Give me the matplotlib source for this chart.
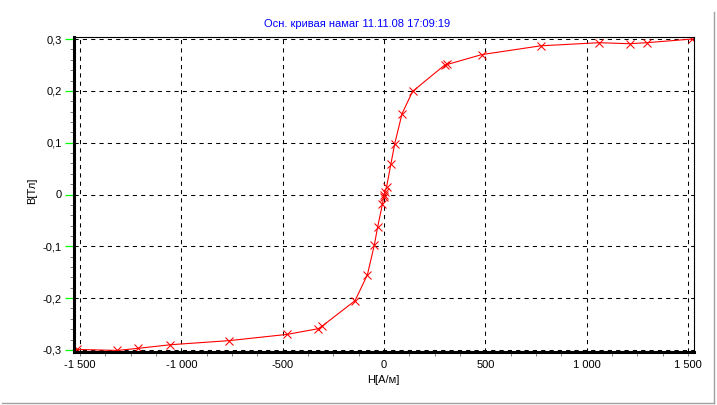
import numpy as np
import matplotlib
matplotlib.use("Agg")
import matplotlib.pyplot as plt
from matplotlib.lines import Line2D

plt.rcParams['font.family'] = ['Liberation Sans', 'DejaVu Sans']

# ---- data ----
H_values = [-1516, -1316, -1215, -1054, -763, -478, -324, -305, -143, -82, -48, -31,
            -8, -2, 1, 3, 13, 34, 53, 89, 141, 300, 312, 482, 773, 1062, 1214, 1296, 1518]
B_values = [-0.299, -0.301, -0.297, -0.290, -0.282, -0.270, -0.259, -0.254, -0.205, -0.155,
            -0.098, -0.062, -0.019, -0.005, 0.000, 0.004, 0.015, 0.059, 0.098, 0.156, 0.199,
            0.250, 0.251, 0.270, 0.287, 0.293, 0.291, 0.293, 0.300]

x_ticks = [-1500, -1000, -500, 0, 500, 1000, 1500]
x_tick_labels = ["-1 500", "-1 000", "-500", "0", "500", "1 000", "1 500"]
y_ticks = [-0.3, -0.2, -0.1, 0.0, 0.1, 0.2, 0.3]
y_tick_labels = ["-0,3", "-0,2", "-0,1", "0", "0,1", "0,2", "0,3"]

title_text = "Осн. кривая намаг 11.11.08 17:09:19"
x_label = "H[A/м]"
y_label = "B[Тл]"

W, Hh = 717, 405
fig = plt.figure(figsize=(W / 100, Hh / 100), dpi=100)
ax = fig.add_axes([74 / W, 1 - 352 / Hh, (694 - 74) / W, (352 - 37) / Hh])

ax.set_xlim(-1529.6, 1529.6)
ax.set_ylim(-0.304, 0.304)

ax.plot(H_values, B_values, color='#ff0000', lw=0.8, marker='x', ms=6, mew=0.75,
        zorder=3, clip_on=True)

# grid
for xv in x_ticks:
    ax.axvline(xv, color='black', lw=0.75, ls=(0, (4, 4)), zorder=1)
for yv in y_ticks:
    ax.axhline(yv, color='black', lw=0.75, ls=(0, (4, 4)), zorder=1)

# ticks
ax.set_xticks(x_ticks)
ax.set_xticklabels(x_tick_labels)
ax.set_yticks(y_ticks)
ax.set_yticklabels(y_tick_labels)

x_minor = [v for v in np.arange(-1500, 1501, 125) if (v % 500 != 0) or abs(v) == 1500]
y_minor = [round(v, 2) for v in np.arange(-0.30, 0.301, 0.02)
           if abs(round(v * 10) - v * 10) > 1e-6]
ax.xaxis.remove_overlapping_locs = False
ax.yaxis.remove_overlapping_locs = False
ax.set_xticks(x_minor, minor=True)
ax.set_yticks(y_minor, minor=True)

ax.tick_params(axis='x', which='major', length=0, pad=5.5, labelsize=8, colors='black')
ax.tick_params(axis='x', which='minor', length=3, width=0.72, color='#808080', direction='out')
ax.tick_params(axis='y', which='major', length=6.5, width=0.9, color='#00ff00', pad=2.2,
               labelsize=8, labelcolor='black', direction='out')
ax.tick_params(axis='y', which='minor', length=2.9, width=0.72, color='#808080', direction='out')

# spines
ax.spines['left'].set_linewidth(2.2)
ax.spines['bottom'].set_linewidth(2.2)
ax.spines['top'].set_linewidth(0.8)
ax.spines['right'].set_linewidth(0.8)
for s in ax.spines.values():
    s.set_color('black')
    s.set_zorder(4)

# texts
fig.text(357.5 / W, 1 - 24 / Hh, title_text, color='#0000ff', fontsize=8,
         ha='center', va='center')
fig.text(383.5 / W, 1 - 380 / Hh, x_label, color='black', fontsize=8,
         ha='center', va='center')
fig.text(32 / W, 1 - 191 / Hh, y_label, color='black', fontsize=8,
         ha='center', va='center', rotation=90)

# window frame lines (gray)
fig.add_artist(Line2D([713.5 / W, 713.5 / W], [1 - 12 / Hh, 1 - 402.5 / Hh],
                      transform=fig.transFigure, color='#a0a0a0', lw=1.0))
fig.add_artist(Line2D([2 / W, 713.5 / W], [1 - 402.5 / Hh, 1 - 402.5 / Hh],
                      transform=fig.transFigure, color='#a0a0a0', lw=1.0))

fig.savefig("out.png", dpi=100)
